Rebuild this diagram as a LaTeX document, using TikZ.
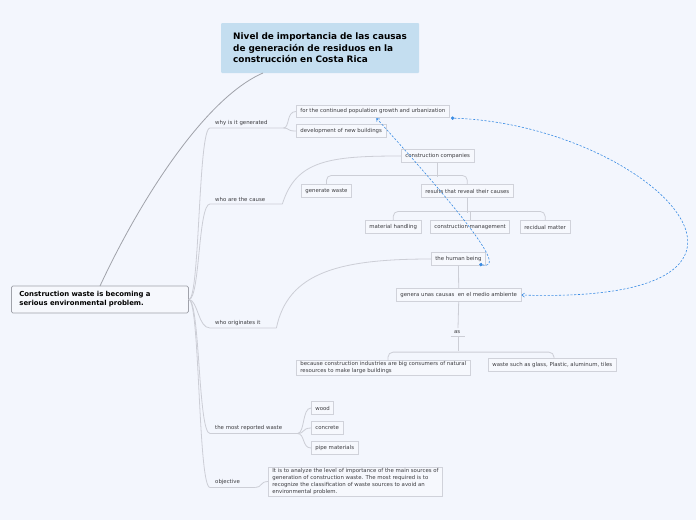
\documentclass[tikz,border=0pt]{standalone}
\usepackage{fontspec}
\setmainfont{DejaVu Sans}
\usetikzlibrary{arrows.meta}
\definecolor{paper}{RGB}{243,246,253}
\definecolor{titlefill}{RGB}{196,222,240}
\definecolor{boxline}{RGB}{208,210,218}
\definecolor{boxfill}{RGB}{246,248,253}
\definecolor{rootline}{RGB}{160,162,170}
\definecolor{branchcol}{RGB}{204,206,214}
\definecolor{linkcol}{RGB}{58,140,228}
\definecolor{txt}{RGB}{60,60,64}

\begin{document}
\begin{tikzpicture}
[x=1pt,y=-1pt,%
  box/.style={draw=boxline,fill=boxfill,line width=0.7pt,anchor=west,inner xsep=4pt,
    inner ysep=1.4pt,minimum height=12.5pt,text=txt,font=\fontsize{5.4}{7}\selectfont,align=left},%
  lbl/.style={anchor=south west,inner xsep=5pt,inner ysep=2.2pt,text width=#1,text=txt,
    font=\fontsize{5.4}{6}\selectfont},%
  branch/.style={draw=branchcol,line width=0.8pt},%
  link/.style={draw=linkcol,line width=0.6pt,dash pattern=on 2.2pt off 1.6pt,
    {Circle[length=3.4pt,sep=-1.7pt]}-{Straight Barb[length=2.6pt,width=4pt]}}]
\useasboundingbox (0,0) rectangle (696,520);
\fill[paper] (0,0) rectangle (696,520);

% main topics
\node[fill=titlefill,rounded corners=1pt,anchor=west,minimum height=50pt,text width=174pt,
  inner xsep=12pt,align=left,font=\fontsize{8.9}{11.5}\selectfont\bfseries] (title) at (221,48)
  {Nivel de importancia de las causas\\de generación de residuos en la\\construcción en Costa Rica};
\node[draw=rootline,fill=boxfill,rounded corners=1.5pt,line width=0.8pt,anchor=west,
  minimum height=27pt,text width=161pt,inner xsep=8pt,align=left,
  font=\fontsize{6.9}{9}\selectfont\bfseries] (root) at (11,299.5)
  {Construction waste is becoming a\\serious environmental problem.};
\draw[rootline,line width=0.8pt] (100,286) .. controls (140,200) and (205,98) .. (263,73);

% labels on the branches
\node[lbl=63pt] (why) at (210,128) {why is it generated};
\node[lbl=62pt] (who) at (210,204) {who are the cause};
\node[lbl=56pt] (org) at (210,328) {who originates it};
\node[lbl=77pt] (most) at (210,433.5) {the most reported waste};
\node[lbl=35pt] (obj) at (210,487.5) {objective};

% boxes
\node[box] (f1) at (296,111.5) {for the continued population growth and urbanization};
\node[box] (f2) at (296,131) {development of new buildings};
\node[box] (cc) at (401,156) {construction companies};
\node[box] (gw) at (301,191) {generate waste};
\node[box] (rr) at (421,191) {results that reveal their causes};
\node[box] (mh) at (365,227) {material handling};
\node[box] (cm) at (430,227) {construction management};
\node[box] (rm) at (520,227) {recidual matter};
\node[box] (hb) at (431,259) {the human being};
\node[box] (ga) at (396,295) {genera unas causas\ \ en el medio ambiente};
\node[lbl=8pt,anchor=south,inner xsep=3pt] (as) at (458,336) {as};
\node[box] (b1) at (296,368) {because construction industries are big consumers of natural\\resources to make large buildings};
\node[box] (b2) at (488,365) {waste such as glass, Plastic, aluminum, tiles};
\node[box] (wd) at (311,408) {wood};
\node[box] (cn) at (311,428) {concrete};
\node[box] (pm) at (311,448) {pipe materials};
\node[box] (ob) at (268,481.5) {It is to analyze the level of importance of the main sources of\\generation of construction waste. The most required is to\\recognize the classification of waste sources to avoid an\\environmental problem.};

% branches from the root
\draw[branch] (root.east) .. controls (200,300) and (198,128) .. (why.south west) -- (why.south east);
\draw[branch] (root.east) .. controls (200,300) and (198,204) .. (who.south west) -- (who.south east);
\draw[branch] (root.east) .. controls (198,300) and (198,328) .. (org.south west) -- (org.south east);
\draw[branch] (root.east) .. controls (200,300) and (198,433.5) .. (most.south west) -- (most.south east);
\draw[branch] (root.east) .. controls (200,300) and (198,487.5) .. (obj.south west) -- (obj.south east);

% to the boxes
\draw[branch] (why.south east) .. controls (290,128) and (286,111.5) .. (f1.west);
\draw[branch] (why.south east) .. controls (290,128) and (286,131) .. (f2.west);
\draw[branch] (who.south east) .. controls (296,160) and (330,156) .. (cc.west);
\draw[branch] (org.south east) .. controls (288,272) and (340,259) .. (hb.west);
\draw[branch] (most.south east) .. controls (305,433.5) and (302,408) .. (wd.west);
\draw[branch] (most.south east) .. controls (305,433.5) and (302,428) .. (cn.west);
\draw[branch] (most.south east) .. controls (305,433.5) and (302,448) .. (pm.west);
\draw[branch] (obj.south east) .. controls (262,487.5) and (260,481.5) .. (ob.west);

% trees below
\draw[branch] (cc.south) -- ++(0,14);
\draw[branch,rounded corners=5pt] (gw.north) -- ++(0,-9) -| (rr.north);
\draw[branch] (rr.south) -- ++(0,15);
\draw[branch,rounded corners=5pt] (mh.north) -- ++(0,-9) -| (rm.north);
\draw[branch] (cm.north) -- ++(0,-9);
\draw[branch] (hb.south) -- (ga.north);
\draw[branch] (ga.south) -- (as.north);
\draw[branch] (as.south west) -- (as.south east);
\draw[branch] (as.south) -- ++(0,15);
\draw[branch,rounded corners=5pt] (b1.north-|388,0) -- ++(0,-8) -| (b2.north-|554,0);

% dashed relations
\draw[link] ([xshift=3pt]f1.south east) .. controls (650,125) and (830,305) .. (ga.east);
\draw[link] ([xshift=-5pt,yshift=1pt]hb.south east) .. controls (506,270) and (470,222) .. ([xshift=3.5pt]f1.south);
\end{tikzpicture}
\end{document}
